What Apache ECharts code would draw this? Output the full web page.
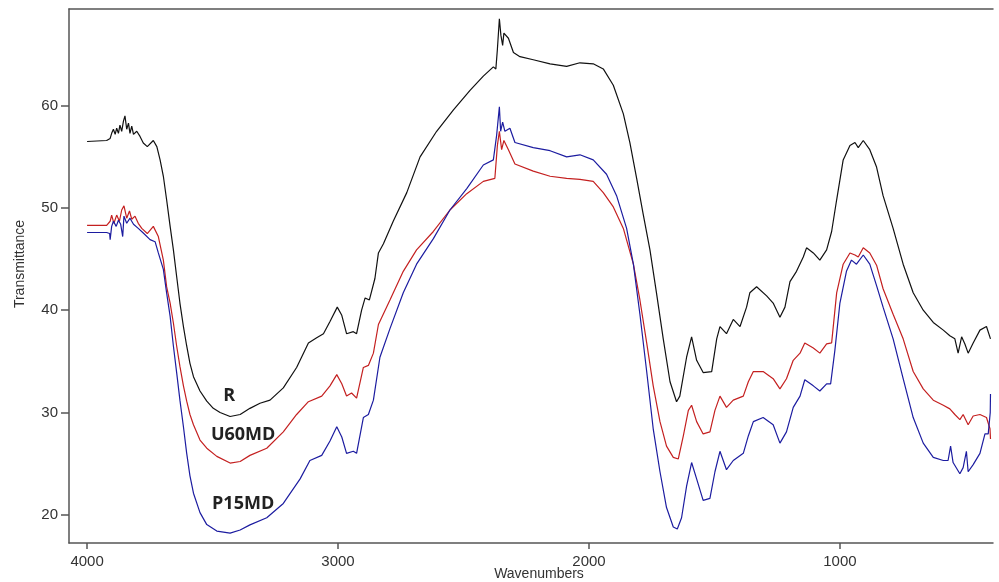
<!DOCTYPE html>
<html>
<head>
<meta charset="utf-8">
<script src="https://cdn.jsdelivr.net/npm/echarts@6.0.0/dist/echarts.min.js"></script>
<style>
html,body{margin:0;padding:0;background:#fff;}
#chart{width:999px;height:582px;}
</style>
</head>
<body>
<div id="chart"></div>
<script>
// ---- data (wavenumber, transmittance) ----
const rWn = [4000,3922,3908,3902,3895,3888,3882,3875,3869,3862,3855,3849,3842,3835,3829,3822,3815,3802,3789,3776,3760,3736,3722,3709,3696,3683,3669,3656,3643,3630,3616,3603,3590,3576,3550,3523,3497,3470,3430,3390,3351,3311,3271,3218,3165,3118,3085,3058,3032,3003,2985,2966,2939,2926,2906,2892,2875,2853,2839,2819,2780,2726,2673,2607,2540,2474,2421,2381,2371,2365,2357,2351,2344,2339,2321,2301,2275,2222,2155,2089,2036,1983,1943,1903,1863,1837,1810,1784,1757,1731,1704,1677,1651,1638,1611,1591,1571,1545,1511,1491,1478,1452,1425,1398,1372,1359,1332,1292,1266,1239,1219,1199,1173,1146,1133,1106,1080,1053,1033,1013,987,960,940,927,907,881,854,828,788,748,708,668,628,588,562,542,529,515,502,489,469,442,416,400];
const rT  = [56.5,56.6,56.8,57.3,57.7,57.2,57.8,57.3,58.1,57.5,58.5,59.0,57.7,58.3,57.3,58.0,57.2,57.5,57.0,56.35,56.0,56.6,56.0,54.7,53.1,50.8,48.2,45.9,43.3,40.7,38.4,36.5,34.8,33.5,32.1,31.1,30.4,30.0,29.6,29.8,30.4,30.9,31.2,32.4,34.4,36.8,37.3,37.7,38.9,40.3,39.5,37.7,37.9,37.7,40.0,41.2,41.0,43.1,45.6,46.5,48.7,51.5,55.0,57.5,59.6,61.5,62.9,63.8,63.6,65.5,68.5,66.9,65.9,67.1,66.6,65.2,64.8,64.5,64.1,63.85,64.2,64.1,63.6,62.0,59.2,56.4,52.9,49.4,45.9,41.7,37.2,33.0,31.05,31.6,35.4,37.4,35.1,33.9,34.0,37.2,38.4,37.7,39.1,38.4,40.3,41.7,42.3,41.4,40.7,39.3,40.3,42.8,43.8,45.2,46.1,45.6,44.9,45.9,47.7,50.8,54.7,56.1,56.4,55.9,56.6,55.7,54.0,51.2,48.0,44.5,41.7,40.0,38.8,38.05,37.5,37.2,35.8,37.4,36.7,35.8,36.8,38.05,38.4,37.2];

const uWn = [4000,3922,3908,3902,3893,3882,3871,3862,3853,3842,3831,3822,3809,3796,3782,3760,3736,3716,3696,3683,3669,3656,3643,3630,3616,3603,3590,3576,3550,3523,3483,3430,3390,3351,3284,3218,3165,3118,3065,3032,3005,2985,2966,2946,2926,2899,2879,2859,2839,2793,2740,2687,2620,2554,2487,2421,2375,2365,2357,2348,2339,2321,2295,2222,2155,2089,2036,1983,1943,1903,1863,1823,1797,1770,1744,1717,1691,1664,1644,1624,1604,1591,1571,1545,1518,1498,1478,1452,1425,1385,1365,1345,1306,1266,1239,1213,1186,1159,1140,1106,1080,1053,1033,1013,987,960,940,927,907,881,854,828,788,748,708,668,628,588,562,542,522,509,489,469,442,416,402,400];
const uT  = [48.3,48.3,48.7,49.3,48.5,49.3,48.7,49.8,50.2,49.0,49.7,48.9,49.2,48.5,48.0,47.5,48.2,47.2,44.9,42.3,40.7,38.75,36.5,34.5,32.6,31.1,29.8,28.8,27.3,26.5,25.7,25.05,25.2,25.8,26.5,28.1,29.8,31.05,31.6,32.6,33.7,32.8,31.6,31.9,31.4,34.4,34.6,35.8,38.6,41.0,43.8,45.9,47.7,49.8,51.4,52.6,52.9,56.1,57.5,55.7,56.6,55.7,54.3,53.6,53.1,52.9,52.8,52.6,51.5,50.1,48.0,44.5,41.0,36.8,32.6,29.1,26.7,25.6,25.45,27.7,30.2,30.7,29.1,27.9,28.1,30.2,31.6,30.5,31.2,31.6,33.0,34.0,34.0,33.3,32.3,33.3,35.1,35.8,36.8,36.3,35.8,36.7,36.8,41.7,44.5,45.6,45.4,45.2,46.1,45.6,44.4,42.1,39.6,37.2,34.0,32.3,31.2,30.7,30.35,29.8,29.3,29.8,28.8,29.65,29.8,29.5,28.4,27.4];

const pWn = [4000,3922,3910,3908,3902,3895,3884,3875,3866,3858,3853,3842,3829,3815,3796,3776,3749,3729,3716,3696,3683,3669,3656,3643,3630,3616,3603,3590,3576,3550,3523,3483,3430,3390,3351,3284,3218,3151,3112,3065,3032,3005,2985,2966,2939,2926,2899,2879,2859,2833,2793,2740,2687,2620,2554,2487,2421,2381,2368,2357,2352,2344,2335,2315,2295,2222,2155,2089,2036,1983,1930,1890,1850,1823,1797,1770,1744,1717,1691,1664,1648,1631,1611,1591,1571,1545,1518,1498,1478,1452,1425,1385,1365,1345,1306,1266,1239,1213,1186,1159,1140,1106,1080,1053,1037,1020,1000,974,954,934,907,881,854,828,788,748,708,668,628,588,569,559,549,522,509,496,489,469,442,422,409,401,400];
const pT  = [47.6,47.6,47.5,46.9,48.2,48.7,48.2,48.8,48.4,47.2,49.2,48.5,49.0,48.4,48.0,47.55,46.9,46.7,45.6,44.0,41.7,39.4,36.5,33.9,31.2,28.6,26.0,23.8,22.1,20.2,19.03,18.4,18.2,18.5,19.0,19.7,21.1,23.5,25.3,25.8,27.2,28.6,27.6,26.0,26.2,26.0,29.5,29.8,31.2,35.4,38.2,41.7,44.5,47.0,49.8,51.9,54.2,54.7,57.1,59.9,57.5,58.4,57.5,57.8,56.4,55.9,55.6,55.0,55.2,54.7,53.3,51.2,48.0,44.5,39.6,34.0,28.4,24.2,20.7,18.8,18.6,19.7,22.8,25.1,23.5,21.4,21.6,24.2,26.2,24.4,25.3,26.0,27.7,29.1,29.5,28.8,27.0,28.1,30.5,31.6,33.2,32.6,32.1,32.8,32.8,36.1,40.7,43.8,44.9,44.5,45.4,44.5,42.4,40.3,37.2,33.3,29.5,27.0,25.6,25.3,25.3,26.7,25.1,24.0,24.6,26.2,24.2,24.9,26.0,27.9,27.9,30.0,31.8];

const seriesNames = ['R','U60MD','P15MD'];
const xTicks = [4000,3000,2000,1000];
const yTicks = [20,30,40,50,60];
const curveLabels = [
  {text:'R', wn:3434, t:31.6},
  {text:'U60MD', wn:3378, t:27.8},
  {text:'P15MD', wn:3378, t:21.1}
];

const pair = (w,t) => w.map((x,i)=>[x,t[i]]);

const chart = echarts.init(document.getElementById('chart'));
const axisColor = '#555';
const lblFont = {fontFamily:'Liberation Sans, Arial, sans-serif', fontSize:15, color:'#333'};
const plain = v => String(v);

const option = {
  animation:false,
  backgroundColor:'#fff',
  grid:{left:69,right:6,top:9,bottom:39},
  xAxis:[{
    type:'value', inverse:true, min:390, max:4072,
    axisLine:{show:true,onZero:false,lineStyle:{color:axisColor,width:1.5}},
    axisTick:{show:true,customValues:xTicks,length:6,lineStyle:{color:axisColor,width:1.5}},
    axisLabel:Object.assign({customValues:xTicks,margin:11,formatter:plain},lblFont),
    splitLine:{show:false}
  },{
    type:'value', position:'top', inverse:true, min:390, max:4072,
    axisLine:{show:true,onZero:false,lineStyle:{color:axisColor,width:1.5}},
    axisTick:{show:false}, axisLabel:{show:false}, splitLine:{show:false}
  }],
  yAxis:{
    type:'value', min:17.23, max:69.46,
    axisLine:{show:true,onZero:false,lineStyle:{color:axisColor,width:1.5}},
    axisTick:{show:true,customValues:yTicks,length:8,lineStyle:{color:axisColor,width:1.5}},
    axisLabel:Object.assign({customValues:yTicks,margin:11,formatter:plain},lblFont),
    splitLine:{show:false}
  },
  series:[
    {name:seriesNames[0],type:'line',data:pair(rWn,rT),showSymbol:false,symbol:'none',lineStyle:{color:'#111',width:1.2},color:'#111'},
    {name:seriesNames[1],type:'line',data:pair(uWn,uT),showSymbol:false,symbol:'none',lineStyle:{color:'#c42020',width:1.2},color:'#c42020'},
    {name:seriesNames[2],type:'line',data:pair(pWn,pT),showSymbol:false,symbol:'none',lineStyle:{color:'#1c1ca0',width:1.2},color:'#1c1ca0'}
  ]
};
chart.setOption(option);

const g = [
  {type:'text', x:20, y:264, rotation:Math.PI/2,
   style:{text:'Transmittance', fontFamily:'Liberation Sans, Arial, sans-serif', fontSize:14, fill:'#333', align:'center', verticalAlign:'middle'}},
  {type:'text', x:539, y:574,
   style:{text:'Wavenumbers', fontFamily:'Liberation Sans, Arial, sans-serif', fontSize:14, fill:'#333', align:'center', verticalAlign:'middle'}}
];
curveLabels.forEach(c=>{
  const p = chart.convertToPixel({xAxisIndex:0,yAxisIndex:0},[c.wn,c.t]);
  g.push({type:'text', x:p[0], y:p[1],
    style:{text:c.text, fontFamily:'Open Sans, Liberation Sans, sans-serif', fontWeight:'bold', fontSize:18, fill:'#222', align:'center', verticalAlign:'middle'}});
});
chart.setOption({graphic:g});
</script>
</body>
</html>
